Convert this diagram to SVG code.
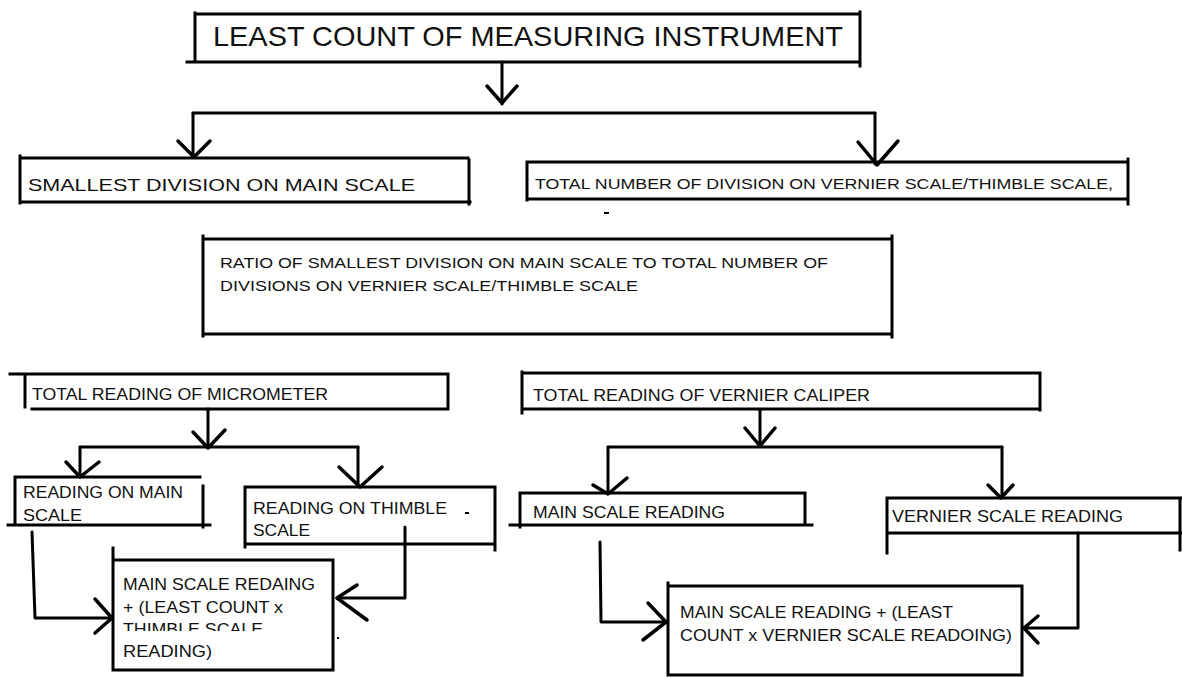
<svg xmlns="http://www.w3.org/2000/svg" width="1182" height="678" viewBox="0 0 1182 678">
<style>
.box{fill:none;stroke:#000;stroke-width:3;stroke-linecap:square}
.ln{fill:none;stroke:#000;stroke-width:3;stroke-linecap:round;stroke-linejoin:round}
.hd{fill:none;stroke:#000;stroke-width:3.5;stroke-linecap:round;stroke-linejoin:round}
text{font-family:"Liberation Sans",Arial,sans-serif;fill:#111}
.t17{font-size:17px}
.t16{font-size:16px}
.t15{font-size:15px}
</style>
<defs>
<clipPath id="cut"><rect x="110" y="600" width="230" height="31"/></clipPath>
</defs>
<rect width="1182" height="678" fill="#fff"/>

<g id="n-title">
<path class="box" d="M187,62 H860 M195,13 V62 M195,14 H858 M860,12 V66"/>
<text x="213" y="46" font-size="28" textLength="630" lengthAdjust="spacingAndGlyphs">LEAST COUNT OF MEASURING INSTRUMENT</text>
</g>

<g id="n-smallest">
<path class="box" d="M20,156 V203 M20,158 H468 M469,160 V204 M20,202 H470"/>
<text class="t17" x="28" y="191" textLength="387" lengthAdjust="spacingAndGlyphs">SMALLEST DIVISION ON MAIN SCALE</text>
</g>

<g id="n-total">
<path class="box" d="M527,162 V200 M527,162 H1126 M1128,159 V204 M527,199 H1127"/>
<text class="t15" x="535" y="189" textLength="578" lengthAdjust="spacingAndGlyphs">TOTAL NUMBER OF DIVISION ON VERNIER SCALE/THIMBLE SCALE,</text>
</g>
<rect x="604" y="212" width="5" height="2" fill="#000"/>

<g id="n-ratio">
<path class="box" d="M203,236 V336 M203,239 H890 M892,236 V337 M205,334 H891"/>
<text class="t15" x="220" y="268" textLength="608" lengthAdjust="spacingAndGlyphs">RATIO OF SMALLEST DIVISION ON MAIN SCALE TO TOTAL NUMBER OF</text>
<text class="t15" x="220" y="291" textLength="418" lengthAdjust="spacingAndGlyphs">DIVISIONS ON VERNIER SCALE/THIMBLE SCALE</text>
</g>

<g id="n-micro">
<path class="box" d="M10,374 H448 M25,374 V407 M448,374 V409 M32,409 H448"/>
<text class="t16" x="32" y="400" textLength="296" lengthAdjust="spacingAndGlyphs">TOTAL READING OF MICROMETER</text>
</g>

<g id="n-vernier">
<path class="box" d="M522,373 H1040 M522,372 V413 M1040,374 V410 M522,409 H1040"/>
<text class="t16" x="533" y="401" textLength="337" lengthAdjust="spacingAndGlyphs">TOTAL READING OF VERNIER CALIPER</text>
</g>

<g id="n-rmain">
<path class="box" d="M15,477 H200 M15,477 V525 M203,486 V527 M8,525 H210"/>
<text class="t17" x="23" y="498" textLength="160" lengthAdjust="spacingAndGlyphs">READING ON MAIN</text>
<text class="t17" x="23" y="521" textLength="59" lengthAdjust="spacingAndGlyphs">SCALE</text>
</g>

<g id="n-rthimble">
<path class="box" d="M245,487 H493 M245,487 V547 M495,487 V550 M245,544 H493"/>
<text class="t17" x="253" y="514" textLength="194" lengthAdjust="spacingAndGlyphs">READING ON THIMBLE</text>
<text class="t17" x="253" y="536" textLength="57" lengthAdjust="spacingAndGlyphs">SCALE</text>
<rect x="465" y="512" width="4" height="2" fill="#000"/>
</g>

<g id="n-mresult">
<path class="box" d="M113,548 V670 M113,560 H333 M333,560 V670 M113,670 H333"/>
<text class="t17" x="123" y="590" textLength="192" lengthAdjust="spacingAndGlyphs">MAIN SCALE REDAING</text>
<text class="t17" x="123" y="613" textLength="160" lengthAdjust="spacingAndGlyphs">+ (LEAST COUNT x</text>
<text class="t17" x="123" y="635" textLength="140" lengthAdjust="spacingAndGlyphs" clip-path="url(#cut)">THIMBLE SCALE</text>
<text class="t17" x="123" y="657" textLength="89" lengthAdjust="spacingAndGlyphs">READING)</text>
<rect x="337" y="637" width="2" height="2" fill="#000"/>
</g>

<g id="n-vmain">
<path class="box" d="M520,493 H805 M520,493 V527 M805,495 V525 M510,525 H812"/>
<text class="t17" x="533" y="518" textLength="192" lengthAdjust="spacingAndGlyphs">MAIN SCALE READING</text>
</g>

<g id="n-vscale">
<path class="box" d="M887,498 H1182 M887,498 V553 M887,533 H1182 M1180,498 V550"/>
<text class="t17" x="892" y="522" textLength="231" lengthAdjust="spacingAndGlyphs">VERNIER SCALE READING</text>
</g>

<g id="n-vresult">
<path class="box" d="M668,583 V675 M668,586 H1022 M1022,588 V675 M668,675 H1022"/>
<text class="t17" x="680" y="618" textLength="273" lengthAdjust="spacingAndGlyphs">MAIN SCALE READING + (LEAST</text>
<text class="t17" x="680" y="641" textLength="332" lengthAdjust="spacingAndGlyphs">COUNT x VERNIER SCALE READOING)</text>
</g>

<g id="connectors">
<path class="ln" d="M502,62 V104"/>
<path class="hd" d="M487,86 L502,103 L517,86"/>
<path class="ln" d="M193,113 H875"/>
<path class="ln" d="M193,113 V156"/>
<path class="hd" d="M178,141 L194,157 L210,141"/>
<path class="ln" d="M875,113 V164"/>
<path class="hd" d="M858,142 L877,165 L898,141"/>

<path class="ln" d="M208,409 V447"/>
<path class="hd" d="M193,432 L208,448 L225,430"/>
<path class="ln" d="M80,447 H358"/>
<path class="ln" d="M80,447 V476"/>
<path class="hd" d="M66,462 L80,477 L99,462"/>
<path class="ln" d="M358,447 V486"/>
<path class="hd" d="M339,467 L360,487 L382,467"/>
<path class="ln" d="M32,532 L35,618 H112"/>
<path class="hd" d="M95,599 L112,618 L95,633"/>
<path class="ln" d="M405,527 V598 H337"/>
<path class="hd" d="M357,585 L337,598 L367,620"/>

<path class="ln" d="M760,410 V445"/>
<path class="hd" d="M745,428 L760,446 L775,428"/>
<path class="ln" d="M608,447 H1002"/>
<path class="ln" d="M608,447 V492"/>
<path class="hd" d="M593,485 L608,494 L627,478"/>
<path class="ln" d="M1002,447 V496"/>
<path class="hd" d="M988,485 L1001,498 L1013,485"/>
<path class="ln" d="M600,542 L601,622 H665"/>
<path class="hd" d="M648,603 L666,622 L643,640"/>
<path class="ln" d="M1078,533 V628 H1025"/>
<path class="hd" d="M1038,616 L1024,628 L1038,643"/>
</g>
</svg>
